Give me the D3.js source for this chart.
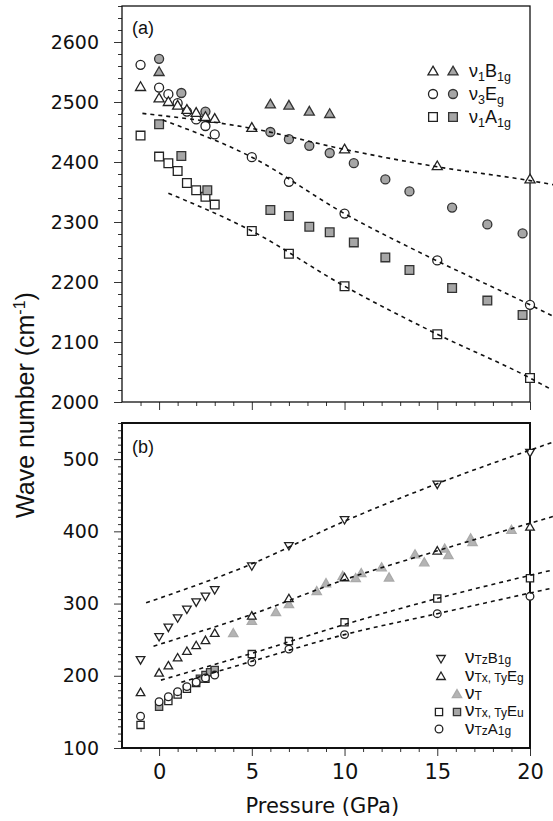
<!DOCTYPE html>
<html>
<head>
<meta charset="utf-8">
<script src="https://cdnjs.cloudflare.com/ajax/libs/d3/7.8.5/d3.min.js"></script>
<style>
  body { margin: 0; background: #fff; }
  .tick text { font-family: "DejaVu Sans", sans-serif; }
</style>
</head>
<body>
<div id="chart"></div>
<script>

// ---- data (pressure GPa, wave number cm-1) ----
var pressureTicks = [0, 5, 10, 15, 20];
var topTicks = [2000, 2100, 2200, 2300, 2400, 2500, 2600];
var bottomTicks = [100, 200, 300, 400, 500];

// panel (a)
var b1gOpen = [[-1, 2524], [0, 2505], [0.5, 2499], [1, 2493], [1.5, 2486], [2, 2481], [2.5, 2474], [3, 2471],
    [5, 2456], [10, 2420], [15, 2392], [20, 2370]];
var b1gGray = [[0, 2549], [6, 2495], [7, 2493], [8.1, 2483], [9.2, 2479]];
var egOpen = [[-1, 2562], [0, 2524], [0.5, 2513], [1, 2498], [1.5, 2484], [2, 2471], [2.5, 2460], [3, 2446],
    [5, 2408], [7, 2367], [10, 2314], [15, 2236], [20, 2162]];
var egGray = [[0, 2572], [1.2, 2515], [2.5, 2484], [6, 2450], [7, 2438], [8.1, 2427], [9.2, 2415], [10.5, 2398],
    [12.2, 2371], [13.5, 2351], [15.8, 2324], [17.7, 2296], [19.6, 2281]];
var a1gOpen = [[-1, 2444], [0, 2409], [0.5, 2398], [1, 2385], [1.5, 2365], [2, 2353], [2.5, 2342], [3, 2329],
    [5, 2285], [7, 2247], [10, 2193], [15, 2113], [20, 2040]];
var a1gGray = [[0, 2463], [1.2, 2410], [2.6, 2353], [6, 2320], [7, 2310], [8.1, 2292], [9.2, 2283], [10.5, 2266],
    [12.2, 2241], [13.5, 2220], [15.8, 2190], [17.7, 2169], [19.6, 2145]];

var fitB1g = [[-0.9, 2481], [5, 2456], [10, 2421], [15, 2392], [20, 2369], [21.3, 2362]];
var fitEg = [[0.2, 2470], [5, 2408], [10, 2314], [15, 2235], [20, 2162], [21.3, 2142]];
var fitA1g = [[0.5, 2348], [5, 2285], [10, 2193], [15, 2113], [20, 2040], [21.2, 2020]];

// panel (b)
var tzB1g = [[-1, 223], [0, 255], [0.5, 268], [1, 281], [1.5, 293], [2, 303], [2.5, 311], [3, 320],
    [5, 353], [7, 381], [10, 417], [15, 466], [20, 510]];
var txEg = [[-1, 176], [0, 203], [0.5, 213], [1, 224], [1.5, 233], [2, 241], [2.5, 248], [3, 258],
    [5, 282], [7, 306], [10, 335], [15, 372], [20, 405]];
var tGray = [[4, 258], [5, 275], [6.3, 287], [7, 298], [8.5, 316], [9, 327], [9.9, 337], [10.6, 334], [10.9, 341],
    [12, 349], [12.4, 335], [13.8, 367], [14.3, 356], [15.4, 375], [15.6, 366], [16.8, 389], [16.9, 384], [19, 401]];
var euOpen = [[-1, 132], [0.5, 165], [1, 174], [1.5, 182], [2, 190], [2.5, 196], [3, 207],
    [5, 230], [7, 248], [10, 274], [15, 307], [20, 335]];
var euGray = [[0, 157], [2.2, 196], [2.5, 201], [2.75, 205], [3, 208]];
var tzA1g = [[-1, 144], [0, 164], [0.5, 171], [1, 178], [1.5, 185], [2, 191], [2.5, 197], [3, 201],
    [5, 219], [7, 237], [10, 257], [15, 286], [20, 310]];

var fitTzB1g = [[-0.7, 301], [5, 355], [10, 414], [15, 466], [21.3, 524]];
var fitTxEg = [[-0.3, 241], [5, 285], [10, 333], [15, 373], [21.3, 421]];
var fitEu = [[0.1, 194], [5, 231], [10, 271], [15, 307], [21.3, 347]];
var fitTzA1g = [[1.2, 191], [5, 220], [10, 257], [15, 286], [21.3, 322]];

// ---- layout ----
var svgWidth = 553, svgHeight = 821;
var gray = '#a6a6a6';
var ink = '#222';

var svg = d3.select('#chart').append('svg')
    .attr('width', svgWidth)
    .attr('height', svgHeight);

var x = d3.scaleLinear().domain([-2, 20]).range([122, 530]);
var yTop = d3.scaleLinear().domain([2000, 2660]).range([402, 6]);
var yBot = d3.scaleLinear().domain([100, 550]).range([748, 423]);

function drawAxes(y, majors, minorStep, showX, frameWidth) {
    var d0 = y.domain();
    var minors = d3.range(d0[0], d0[1] + 0.01, minorStep).filter(v => majors.indexOf(v) < 0);

    // y major + minor ticks
    var ya = svg.append('g')
        .attr('transform', 'translate(' + x(-2) + ',0)')
        .call(d3.axisLeft(y).tickValues(majors).tickSize(8).tickPadding(15).tickFormat(d3.format('d')));
    ya.select('.domain').remove();
    ya.selectAll('text').style('font-size', '19px').attr('fill', '#111');
    var ym = svg.append('g')
        .attr('transform', 'translate(' + x(-2) + ',0)')
        .call(d3.axisLeft(y).tickValues(minors).tickSize(4).tickFormat(''));
    ym.select('.domain').remove();

    // x ticks below the panel
    var xMinors = d3.range(-1, 20).filter(v => pressureTicks.indexOf(v) < 0);
    var xa = svg.append('g')
        .attr('transform', 'translate(0,' + y.range()[0] + ')')
        .call(d3.axisBottom(x).tickValues(pressureTicks).tickSize(8).tickPadding(8)
            .tickFormat(showX ? d3.format('d') : ''));
    xa.select('.domain').remove();
    xa.selectAll('text').style('font-size', '21px').attr('fill', '#111');
    var xm = svg.append('g')
        .attr('transform', 'translate(0,' + y.range()[0] + ')')
        .call(d3.axisBottom(x).tickValues(xMinors).tickSize(4).tickFormat(''));
    xm.select('.domain').remove();

    svg.selectAll('.tick line').attr('stroke', '#333').attr('stroke-width', 1);

    // frame
    svg.append('rect')
        .attr('x', x(-2))
        .attr('y', y.range()[1])
        .attr('width', x(20) - x(-2))
        .attr('height', y.range()[0] - y.range()[1])
        .attr('fill', 'none')
        .attr('stroke', '#111')
        .attr('stroke-width', frameWidth);
}

drawAxes(yTop, topTicks, 20, false, 1.3);
drawAxes(yBot, bottomTicks, 10, true, 2);

function marks(y, data, type, size, fill, stroke, rot) {
    svg.append('g').selectAll('path')
        .data(data)
        .enter().append('path')
        .attr('d', d3.symbol().type(type).size(size))
        .attr('transform', d => 'translate(' + x(d[0]) + ',' + y(d[1]) + ')' + (rot ? ' rotate(180)' : ''))
        .attr('fill', fill)
        .attr('stroke', stroke)
        .attr('stroke-width', 1.3);
}

function fit(y, data) {
    svg.append('path')
        .datum(data)
        .attr('d', d3.line().x(d => x(d[0])).y(d => y(d[1])).curve(d3.curveMonotoneX))
        .attr('fill', 'none')
        .attr('stroke', '#111')
        .attr('stroke-width', 1.6)
        .attr('stroke-dasharray', '4,4');
}

// panel (a) marks
marks(yTop, a1gOpen, d3.symbolSquare, 76, '#fff', ink);
marks(yTop, a1gGray, d3.symbolSquare, 76, gray, '#333');
marks(yTop, egOpen, d3.symbolCircle, 64, '#fff', ink);
marks(yTop, egGray, d3.symbolCircle, 64, gray, '#333');
marks(yTop, b1gOpen, d3.symbolTriangle, 44, '#fff', ink);
marks(yTop, b1gGray, d3.symbolTriangle, 44, gray, '#333');
fit(yTop, fitB1g);
fit(yTop, fitEg);
fit(yTop, fitA1g);

// panel (b) marks
marks(yBot, tGray, d3.symbolTriangle, 38, '#b4b4b4', '#aaa');
marks(yBot, euOpen, d3.symbolSquare, 52, '#fff', ink);
marks(yBot, euGray, d3.symbolSquare, 52, gray, '#333');
marks(yBot, tzA1g, d3.symbolCircle, 46, '#fff', ink);
marks(yBot, txEg, d3.symbolTriangle, 32, '#fff', ink);
marks(yBot, tzB1g, d3.symbolTriangle, 32, '#fff', ink, true);
fit(yBot, fitTzB1g);
fit(yBot, fitTxEg);
fit(yBot, fitEu);
fit(yBot, fitTzA1g);

// ---- text ----
function rich(px, py, parts, family) {
    var t = svg.append('text')
        .attr('x', px).attr('y', py)
        .attr('fill', '#111')
        .style('font-family', family || '"Liberation Sans", Arial, sans-serif');
    var base = 0;
    parts.forEach(function (p) {
        t.append('tspan')
            .attr('dy', p[2] - base)
            .style('font-size', p[1] + 'px')
            .text(p[0]);
        base = p[2];
    });
    return t;
}

rich(132, 34, [['(a)', 18, 0]]);
rich(132, 453, [['(b)', 18, 0]]);

// legend (a)
function legendMark(px, py, type, size, fill, stroke, rot) {
    svg.append('path')
        .attr('d', d3.symbol().type(type).size(size))
        .attr('transform', 'translate(' + px + ',' + py + ')' + (rot ? ' rotate(180)' : ''))
        .attr('fill', fill).attr('stroke', stroke).attr('stroke-width', 1.3);
}
legendMark(433, 72, d3.symbolTriangle, 44, '#fff', ink);
legendMark(453, 72, d3.symbolTriangle, 44, gray, '#333');
legendMark(433, 94, d3.symbolCircle, 64, '#fff', ink);
legendMark(453, 94, d3.symbolCircle, 64, gray, '#333');
legendMark(433, 117, d3.symbolSquare, 76, '#fff', ink);
legendMark(453, 117, d3.symbolSquare, 76, gray, '#333');
rich(469, 77, [['ν', 18, 0], ['1', 12.5, 4], ['B', 18, 0], ['1g', 12.5, 4]]);
rich(469, 100, [['ν', 18, 0], ['3', 12.5, 4], ['E', 18, 0], ['g', 12.5, 4]]);
rich(469, 123, [['ν', 18, 0], ['1', 12.5, 4], ['A', 18, 0], ['1g', 12.5, 4]]);

// legend (b)
legendMark(441, 658, d3.symbolTriangle, 32, '#fff', ink, true);
legendMark(441, 677, d3.symbolTriangle, 32, '#fff', ink);
legendMark(457, 695, d3.symbolTriangle, 38, '#b4b4b4', '#aaa');
legendMark(439, 712, d3.symbolSquare, 52, '#fff', ink);
legendMark(457, 712, d3.symbolSquare, 52, gray, '#333');
legendMark(439, 729, d3.symbolCircle, 46, '#fff', ink);
rich(465, 663, [['ν', 19, 0], ['Tz', 12, 1], ['B', 15, 0], ['1g', 12, 1]]);
rich(465, 681, [['ν', 19, 0], ['Tx, Ty', 12, 1], ['E', 15, 0], ['g', 12, 1]]);
rich(465, 699, [['ν', 19, 0], ['T', 12, 1]]);
rich(465, 716, [['ν', 19, 0], ['Tx, Ty', 12, 1], ['E', 15, 0], ['u', 12, 1]]);
rich(465, 734, [['ν', 19, 0], ['Tz', 12, 1], ['A', 15, 0], ['1g', 12, 1]]);

// axis titles
svg.append('text')
    .attr('x', x(8.8)).attr('y', 813)
    .attr('text-anchor', 'middle')
    .style('font-family', '"DejaVu Sans", sans-serif')
    .style('font-size', '21px')
    .attr('fill', '#111')
    .text('Pressure (GPa)');

var yt = svg.append('text')
    .attr('transform', 'translate(34,405) rotate(-90)')
    .attr('text-anchor', 'middle')
    .style('font-family', '"Liberation Sans", sans-serif')
    .style('font-size', '25px')
    .attr('fill', '#111');
yt.append('tspan').text('Wave number (cm');
yt.append('tspan').attr('dy', -9).style('font-size', '16px').text('-1');
yt.append('tspan').attr('dy', 9).text(')');

</script>
</body>
</html>
